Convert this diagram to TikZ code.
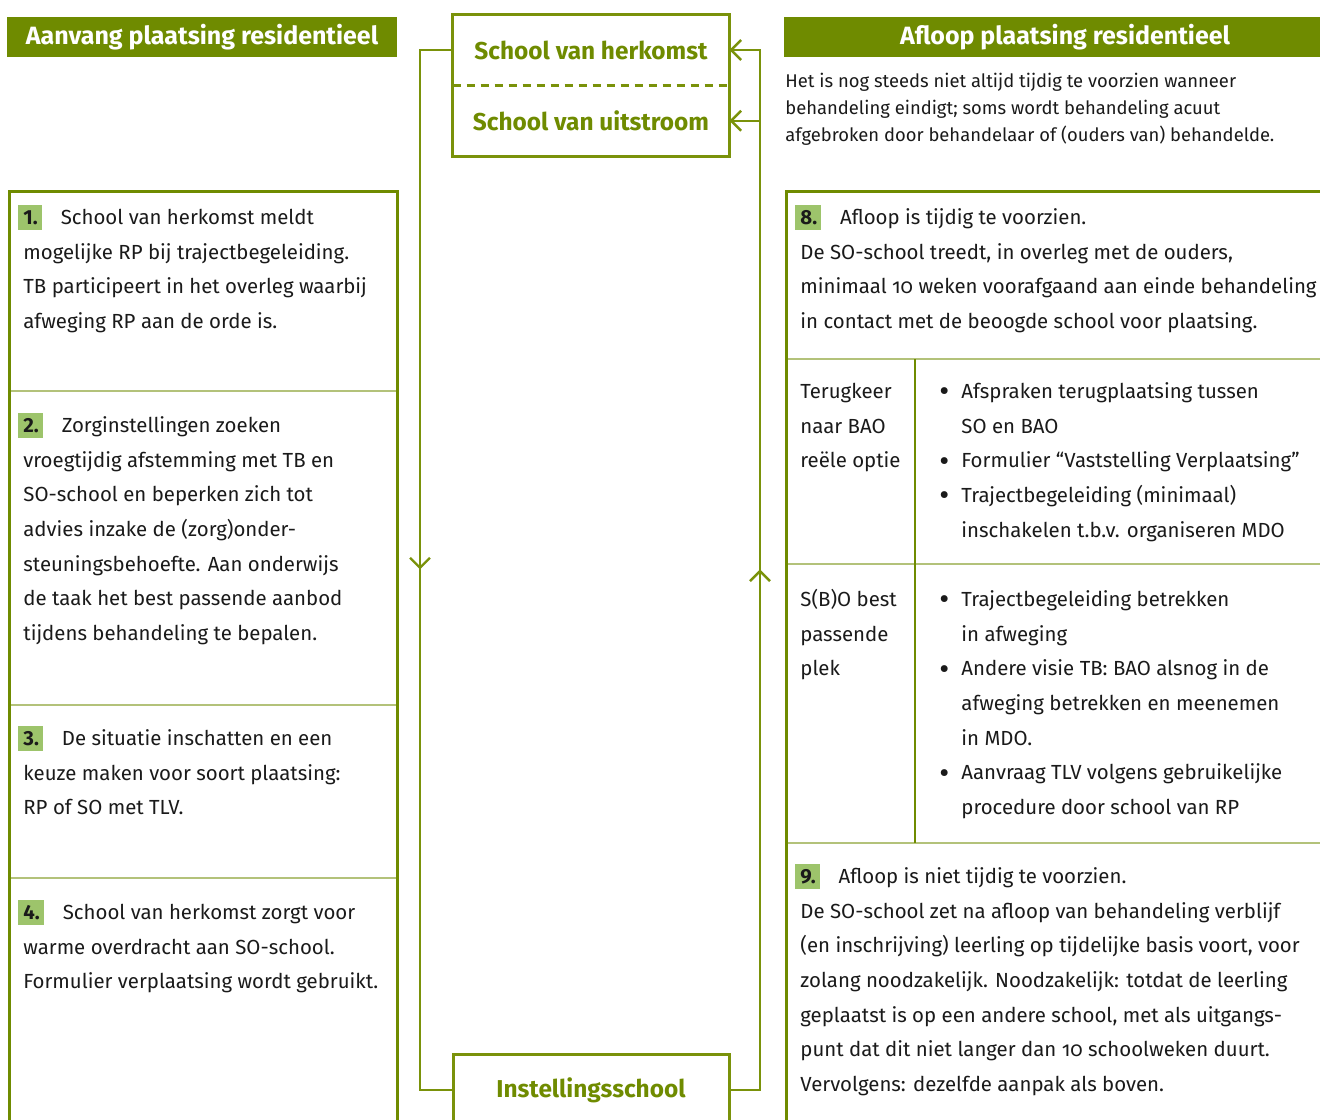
\documentclass[tikz,border=0pt]{standalone}
\usepackage{fontspec}
\setmainfont{Fira Sans}[Numbers=OldStyle]
\usepackage{tikz}
\usetikzlibrary{positioning,arrows.meta,decorations.markings}
\definecolor{hdrgreen}{HTML}{6F8B00}
\definecolor{linegreen}{HTML}{7A920A}
\definecolor{sepgreen}{HTML}{B3C27A}
\definecolor{badgegreen}{HTML}{9DC46B}
\definecolor{inkblack}{HTML}{1A1A1A}
\setlength{\fboxsep}{0pt}
\newcommand\badge[1]{\hspace*{-2.5pt}\colorbox{badgegreen}{\rule[-3pt]{0pt}{12.5pt}\hspace{2.5pt}\addfontfeature{Numbers=Lining}\textbf{#1}\hspace{2pt}}\hspace{9.5pt}}
\newcommand\firstline{\rule{0pt}{9.5pt}}
\newcommand\bul{\llap{\makebox[11pt][l]{\raisebox{-0.17em}{\scalebox{1.5}{\textbullet}}}}}
\tikzset{
  flow/.style={draw=linegreen, line width=1.2pt},
  tip/.style={-{Straight Barb[length=5pt,width=10pt]}},
  midarrow/.style={postaction={decorate}, decoration={markings,
      mark=at position #1 with {\arrow{Straight Barb[length=5pt,width=10pt]}}}},
  hdr/.style={fill=hdrgreen, text=white, font=\fontsize{12.5}{15}\selectfont\bfseries,
      minimum height=20pt, inner sep=0pt},
  midlabel/.style={text=hdrgreen, font=\fontsize{12.2}{15}\selectfont\bfseries,
      minimum width=138pt, minimum height=35pt, inner sep=0pt},
  midframe/.style={draw=linegreen, line width=1.5pt},
  panel/.style={draw=hdrgreen, line width=1.5pt, anchor=north west, inner sep=0pt},
  sep/.style={draw=sepgreen, line width=1pt},
  itemtext/.style={anchor=north west, align=left, inner sep=0pt, text=inkblack,
      font=\fontsize{10.2}{17.33}\selectfont},
  smalltext/.style={anchor=north west, align=left, inner sep=0pt, text=inkblack,
      font=\fontsize{9.2}{13.5}\selectfont}
}

\begin{document}
\begin{tikzpicture}[x=0.5pt, y=-0.5pt]
  \useasboundingbox (0,0) rectangle (1320,1119);

  % headers
  \node[hdr, minimum width=195pt] (lhead) at (202,37) {Aanvang plaatsing residentieel};
  \node[hdr, minimum width=281pt] (rhead) at (1065,37) {Afloop plaatsing residentieel};
  \node[smalltext] (intro) at (785,68) {\firstline Het is nog steeds niet altijd tijdig te voorzien wanneer\\
    behandeling eindigt; soms wordt behandeling acuut\\
    afgebroken door behandelaar of (ouders van) behandelde.};

  % middle schools
  \node[midlabel] (herkomst) at (591,50) {School van herkomst};
  \node[midlabel, below=0pt of herkomst] (uitstroom) {School van uitstroom};
  \draw[midframe] (herkomst.north west) rectangle (uitstroom.south east);
  \draw[draw=linegreen, line width=1.2pt, dash pattern=on 4pt off 3pt]
    (herkomst.south west) -- (herkomst.south east);
  \node[midlabel, midframe, minimum height=36pt] (instelling) at (591,1090) {Instellingsschool};

  \coordinate (lbot) at (420,1090);
  \coordinate (rtop) at (760,50);
  \draw[flow, midarrow=0.5] (herkomst.west) -| (lbot) -- (instelling.west);
  \draw[flow, tip, midarrow=0.5] (instelling.east) -| (rtop) -- (herkomst.east);
  \draw[flow, tip] (uitstroom.east -| rtop) -- (uitstroom.east);

  % left panel
  \foreach \y in {391,705,878}
    \draw[sep] (8,\y) -- (396,\y);
  \node[panel, minimum width=194pt, minimum height=470pt] (lpanel) at (8,190) {};

  \node[itemtext] (step1) at (23,205) {\badge{1.}School van herkomst meldt\\
    mogelijke RP bij trajectbegeleiding.\\
    TB participeert in het overleg waarbij\\
    afweging RP aan de orde is.};
  \node[itemtext] (step2) at (23,413) {\badge{2.}Zorginstellingen zoeken\\
    vroegtijdig afstemming met TB en\\
    SO-school en beperken zich tot\\
    advies inzake de (zorg)onder-\\
    steuningsbehoefte. Aan onderwijs\\
    de taak het best passende aanbod\\
    tijdens behandeling te bepalen.};
  \node[itemtext] (step3) at (23,726) {\badge{3.}De situatie inschatten en een\\
    keuze maken voor soort plaatsing:\\
    RP of SO met TLV.};
  \node[itemtext] (step4) at (23,900) {\badge{4.}School van herkomst zorgt voor\\
    warme overdracht aan SO-school.\\
    Formulier verplaatsing wordt gebruikt.};

  % right panel
  \foreach \y in {359,564,843}
    \draw[sep] (785,\y) -- (1320,\y);
  \draw[draw=hdrgreen, line width=0.7pt] (915,359) -- (915,843);
  \node[panel, minimum width=280pt, minimum height=470pt] (rpanel) at (785,190) {};

  \node[itemtext] (step8) at (800,205) {\badge{8.}Afloop is tijdig te voorzien.\\
    De SO-school treedt, in overleg met de ouders,\\
    minimaal 10 weken voorafgaand aan einde behandeling\\
    in contact met de beoogde school voor plaatsing.};
  \node[itemtext] (terug) at (800,379) {\firstline Terugkeer\\ naar BAO\\ reële optie};
  \node[itemtext] (terugpunt) at (961,379) {\firstline\bul Afspraken terugplaatsing tussen\\
    SO en BAO\\
    \bul Formulier “Vaststelling Verplaatsing”\\
    \bul Trajectbegeleiding (minimaal)\\
    inschakelen t.b.v. organiseren MDO};
  \node[itemtext] (sbo) at (800,587) {\firstline S(B)O best\\ passende\\ plek};
  \node[itemtext] (sbopunt) at (961,587) {\firstline\bul Trajectbegeleiding betrekken\\
    in afweging\\
    \bul Andere visie TB: BAO alsnog in de\\
    afweging betrekken en meenemen\\
    in MDO.\\
    \bul Aanvraag TLV volgens gebruikelijke\\
    procedure door school van RP};
  \node[itemtext] (step9) at (800,864) {\badge{9.}Afloop is niet tijdig te voorzien.\\
    De SO-school zet na afloop van behandeling verblijf\\
    (en inschrijving) leerling op tijdelijke basis voort, voor\\
    zolang noodzakelijk. Noodzakelijk: totdat de leerling\\
    geplaatst is op een andere school, met als uitgangs-\\
    punt dat dit niet langer dan 10 schoolweken duurt.\\
    Vervolgens: dezelfde aanpak als boven.};
\end{tikzpicture}
\end{document}
